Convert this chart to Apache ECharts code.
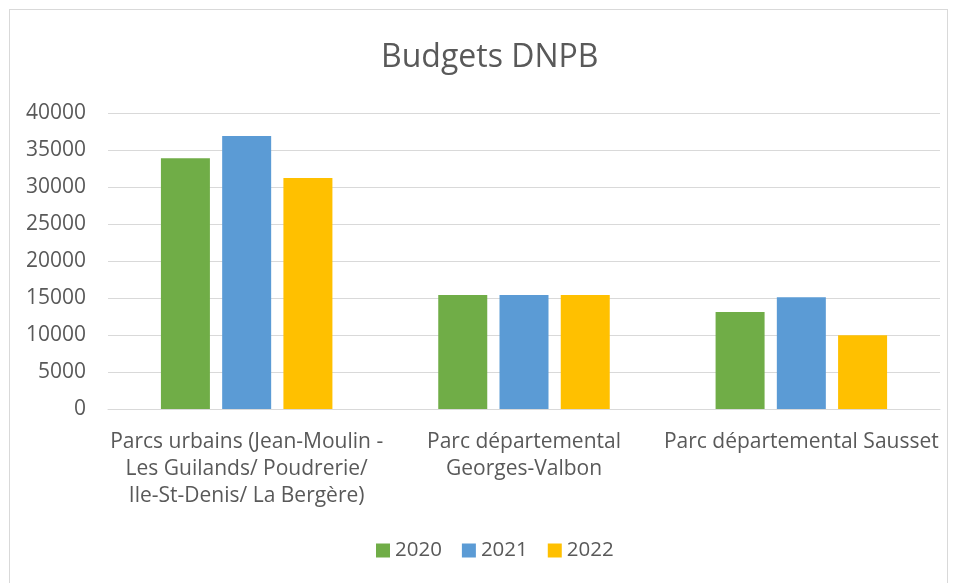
<!DOCTYPE html>
<html><head><meta charset="utf-8">
<script src="https://cdn.jsdelivr.net/npm/echarts@6/dist/echarts.min.js"></script>
<style>html,body{margin:0;padding:0;background:#fff}
#c{width:956px;height:583px}
#frame{position:absolute;left:9px;top:9px;width:937px;height:580px;border:1px solid #d9d9d9;pointer-events:none}
</style></head><body>
<div id="c"></div><div id="frame"></div>
<script>
const categories = ["Parcs urbains (Jean-Moulin -\nLes Guilands/ Poudrerie/\nIle-St-Denis/ La Bergère)", "Parc départemental\nGeorges-Valbon", "Parc départemental Sausset"];
const seriesNames = ["2020", "2021", "2022"];
const values2020 = [33900, 15400, 13100];
const values2021 = [36900, 15400, 15100];
const values2022 = [31200, 15400, 9950];
const colors = ["#70ad47", "#5b9bd5", "#ffc000"];
const font = "'Open Sans', 'Liberation Sans', sans-serif";
const chart = echarts.init(document.getElementById('c'));
const data = [values2020, values2021, values2022];
chart.setOption({
  animation: false,
  title: {text: "Budgets DNPB", left: 376, top: 37, textStyle: {fontFamily: font, fontSize: 32, fontWeight: 'normal', color: '#595959'}},
  legend: {bottom: 17, left: 371, itemWidth: 14, itemHeight: 14, itemGap: 20, icon: 'rect',
    textStyle: {fontFamily: font, fontSize: 20.5, color: '#595959'}, data: seriesNames},
  grid: {left: 108, right: 16, top: 113, bottom: 174, containLabel: false},
  xAxis: {type: 'category', data: categories,
    axisLine: {lineStyle: {color: '#d9d9d9'}}, axisTick: {show: false},
    axisLabel: {fontFamily: font, fontSize: 21, color: '#595959', lineHeight: 27, margin: 20, interval: 0}},
  yAxis: {type: 'value', min: 0, max: 40000, interval: 5000,
    axisLine: {show: false}, axisTick: {show: false},
    splitLine: {lineStyle: {color: '#d9d9d9', width: 1}},
    axisLabel: {fontFamily: font, fontSize: 21, color: '#595959', margin: 22, formatter: v => String(v)}},
  series: seriesNames.map((n, i) => ({name: n, type: 'bar', data: data[i], barWidth: 49, barGap: '25%',
    itemStyle: {color: colors[i]}}))
});
</script></body></html>
